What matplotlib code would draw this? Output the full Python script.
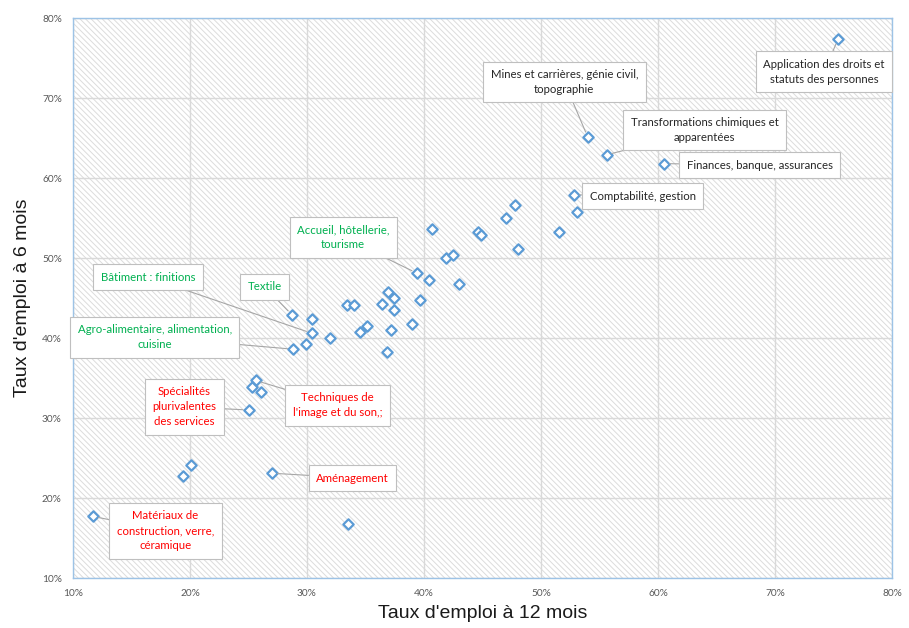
import matplotlib
matplotlib.use("Agg")
import matplotlib.pyplot as plt
from matplotlib.patches import Rectangle
from matplotlib.ticker import FuncFormatter

# ---- data (employment rate at 12 months vs 6 months, %) ----
taux_12_mois = [11.7, 19.4, 20.1, 27.0, 33.5, 25.0, 25.3, 25.6, 26.1, 28.7,
                30.4, 30.4, 29.9, 28.8, 32.0, 33.4, 34.0, 34.5, 35.1, 36.4,
                36.9, 37.4, 37.4, 37.2, 36.8, 39.0, 39.7, 39.4, 40.4, 43.0,
                41.9, 42.5, 40.7, 44.6, 44.9, 47.0, 47.8, 48.0, 51.5, 52.8,
                53.1, 54.0, 55.6, 60.5, 75.4]
taux_6_mois = [17.7, 22.7, 24.1, 23.1, 16.7, 31.0, 33.9, 34.7, 33.3, 42.9,
               42.4, 40.6, 39.2, 38.6, 40.0, 44.1, 44.1, 40.8, 41.5, 44.3,
               45.8, 45.0, 43.5, 41.0, 38.3, 41.8, 44.8, 48.1, 47.2, 46.8,
               50.0, 50.4, 53.6, 53.3, 52.9, 55.0, 56.6, 51.1, 53.2, 57.9,
               55.8, 65.1, 62.9, 61.8, 77.4]
etiquettes = {
    0: "Matériaux de\nconstruction, verre,\ncéramique",
    3: "Aménagement",
    5: "Spécialités\nplurivalentes\ndes services",
    7: "Techniques de\nl'image et du son,;",
    9: "Textile",
    11: "Bâtiment : finitions",
    13: "Agro-alimentaire, alimentation,\ncuisine",
    27: "Accueil, hôtellerie,\ntourisme",
    39: "Comptabilité, gestion",
    41: "Mines et carrières, génie civil,\ntopographie",
    42: "Transformations chimiques et\napparentées",
    43: "Finances, banque, assurances",
    44: "Application des droits et\nstatuts des personnes",
}
groupe = {0: "rouge", 3: "rouge", 5: "rouge", 7: "rouge",
          9: "vert", 11: "vert", 13: "vert", 27: "vert"}
ticks_pct = [10, 20, 30, 40, 50, 60, 70, 80]

# ---- layout (label box centres, data units) ----
box_pos = {
    0: (17.9, 15.9), 3: (33.9, 22.5), 5: (19.5, 31.4), 7: (32.6, 31.6),
    9: (26.4, 46.4), 11: (16.4, 47.6), 13: (17.0, 40.1), 27: (33.1, 52.6),
    39: (58.7, 57.75), 41: (52.0, 72.0), 42: (64.0, 66.0), 43: (68.7, 61.6),
    44: (74.2, 73.3),
}
couleurs = {"rouge": "#FF0000", "vert": "#00B050", None: "#262626"}

plt.rcParams["hatch.linewidth"] = 0.7
fig = plt.figure(figsize=(9.09, 6.28), dpi=100)
ax = fig.add_axes([73/909, 1-578/628, (892-73)/909, (578-18)/628])
ax.set_xlim(ticks_pct[0], ticks_pct[-1])
ax.set_ylim(ticks_pct[0], ticks_pct[-1])

ax.set_facecolor("white")
bg = Rectangle((0, 0), 1, 1, transform=ax.transAxes, facecolor="white",
               edgecolor="#dcdcdc", hatch="\\\\\\\\\\\\", lw=0, zorder=0)
ax.add_patch(bg)

ax.set_xticks(ticks_pct)
ax.set_yticks(ticks_pct)
fmt = FuncFormatter(lambda v, p: f"{v:.0f}%")
ax.xaxis.set_major_formatter(fmt)
ax.yaxis.set_major_formatter(fmt)
ax.set_axisbelow(True)
ax.grid(True, color="#d9d9d9", lw=1.0)
for s in ax.spines.values():
    s.set_color("#9dc3e6")
    s.set_linewidth(1.0)
ax.tick_params(length=0, labelsize=7.3, labelcolor="#595959", pad=8)
for lab in ax.get_xticklabels() + ax.get_yticklabels():
    lab.set_fontfamily("Lato")

ax.scatter(taux_12_mois, taux_6_mois, marker="D", s=28, facecolors="white",
           edgecolors="#5b9bd5", linewidths=1.6, zorder=4, clip_on=False)

for i, txt in etiquettes.items():
    col = couleurs[groupe.get(i)]
    ax.annotate(txt, xy=(taux_12_mois[i], taux_6_mois[i]), xytext=box_pos[i],
                ha="center", va="center", fontsize=8.2, family="Lato",
                color=col, linespacing=1.45, zorder=5,
                bbox=dict(boxstyle="square,pad=0.65", fc="white",
                          ec="#bfbfbf", lw=0.8),
                arrowprops=dict(arrowstyle="-", color="#a6a6a6", lw=0.8,
                                shrinkA=0, shrinkB=4))

ax.set_xlabel("Taux d'emploi à 12 mois", fontsize=14, family="Liberation Sans",
              color="#1a1a1a", labelpad=5)
ax.set_ylabel("Taux d'emploi à 6 mois", fontsize=14, family="Liberation Sans",
              color="#1a1a1a", labelpad=8)

fig.savefig("out.png", dpi=100)
